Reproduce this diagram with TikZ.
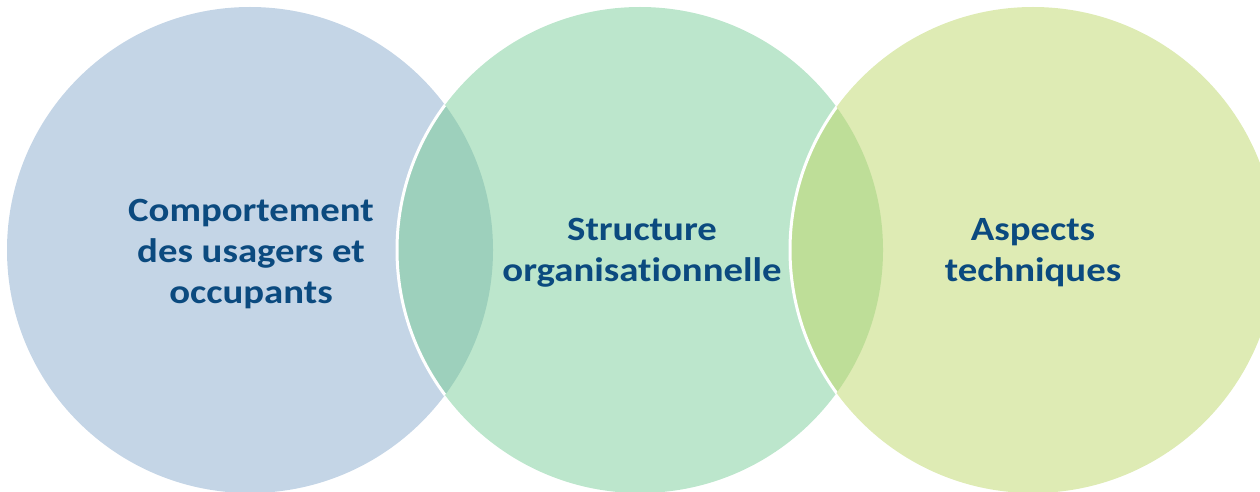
\documentclass[tikz,border=0pt]{standalone}
\usepackage{fontspec}
\setmainfont{Carlito}
\newfontfamily\lblfont{Carlito}[FakeStretch=1.14, Ligatures=NoCommon]
\definecolor{cA}{HTML}{C4D5E6}
\definecolor{cB}{HTML}{BCE6CC}
\definecolor{cC}{HTML}{DEEBB4}
\definecolor{lAB}{HTML}{9DD0BC}
\definecolor{lBC}{HTML}{BEDE98}
\definecolor{txt}{HTML}{0B4A7F}
\tikzset{
  venn/.style={circle, minimum size=486pt, inner sep=0pt, outer sep=0pt},
  lbl/.style={text=txt, align=center, font=\lblfont\bfseries\fontsize{34}{41}\selectfont},
  edge/.style={draw=white, line width=3pt}
}
\begin{document}
\begin{tikzpicture}[x=1pt,y=-1pt]
\useasboundingbox (0,0) rectangle (1260,492);
\begin{scope}
\clip (0,0) rectangle (1260,492);
\node[venn, fill=cA] (c1) at (250,250) {};
\node[venn, fill=cB] (c2) at (640,250) {};
\node[venn, fill=cC] (c3) at (1033,250) {};
\begin{scope}
  \clip (c1.center) circle (243pt);
  \fill[lAB] (c2.center) circle (243pt);
  \draw[edge] (c2.center) circle (243pt);
\end{scope}
\begin{scope}
  \clip (c2.center) circle (243pt);
  \fill[lBC] (c3.center) circle (243pt);
  \draw[edge] (c3.center) circle (243pt);
\end{scope}
\end{scope}
\node[lbl] (t1) at (251,254) {Comportement\\des usagers et\\occupants};
\node[lbl] (t2) at (642,253) {Structure\\organisationnelle};
\node[lbl] (t3) at (1033,253) {Aspects\\techniques};
\end{tikzpicture}
\end{document}
